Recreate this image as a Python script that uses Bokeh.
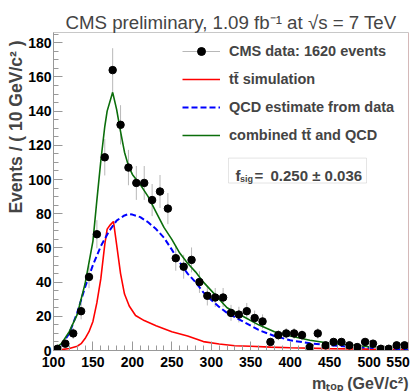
import numpy as np
from bokeh.plotting import figure
from bokeh.models import Range1d, Label, LegendItem, Legend, BoxAnnotation, Span, FixedTicker, Title
from bokeh.embed import file_html
from bokeh.resources import INLINE

# ---- data ----
bin_centers = [105, 115, 125, 135, 145, 155, 165, 175, 185, 195, 205, 215, 225, 235, 245,
               255, 265, 275, 285, 295, 305, 315, 325, 335, 345, 355, 365, 375, 385, 395,
               405, 415, 425, 435, 445, 455, 465, 475, 485, 495, 505, 515, 525, 535, 545]
counts = [1, 4, 10, 23, 43, 68, 113, 164, 132, 107, 98, 98, 88, 93, 83,
          54, 49, 53, 40, 32, 31, 31, 22, 21, 23, 19, 17, 5, 9, 10,
          10, 9, 2, 10, 3, 5, 5, 3, 2, 5, 4, 1, 1, 3, 3]

ttbar_m = [100, 110, 120, 130, 135, 140, 145, 150, 155, 160, 165, 168, 172, 176, 180, 185,
           190, 196, 204, 215, 230, 250, 270, 290, 310, 330, 350, 375, 400, 450, 500, 550]
ttbar_v = [0.2, 0.5, 1.2, 2.5, 4, 7, 11, 17, 28, 42, 62, 71, 73.5, 75.5, 62, 45,
           33, 26, 20.5, 17.5, 14.5, 11, 8.5, 5.2, 3.8, 2.8, 2.5, 2, 1.6, 1.1, 0.8, 0.6]

qcd_m = [100, 105, 110, 120, 130, 140, 150, 160, 170, 180, 190, 195, 200, 210, 220, 230, 240,
         250, 260, 270, 280, 290, 300, 310, 320, 340, 360, 380, 400, 425, 450, 500, 550]
qcd_v = [0, 1.2, 3, 10, 22, 37, 50, 61, 69.5, 76, 79, 79.8, 79.5, 78, 75, 71, 66,
         59, 51.5, 45, 40, 34, 29.5, 25.5, 22, 17, 12, 8.5, 6, 4.2, 3, 1.6, 0.6]

comb_m = [100, 110, 120, 130, 140, 150, 155, 160, 165, 168, 175, 180, 185, 190, 195, 200,
          210, 220, 230, 240, 250, 260, 270, 280, 290, 300, 310, 320, 340, 360, 380, 400,
          425, 450, 500, 550]
comb_v = [0.5, 4, 11, 21, 39, 64, 88, 111, 131, 140, 151, 141, 128, 116, 108, 103,
          97, 90, 81, 72, 65, 57, 51, 46, 40, 35, 30, 25, 20, 15, 11, 8.5,
          6, 4.2, 2.2, 1.6]

x_ticks = [100, 150, 200, 250, 300, 350, 400, 450, 500, 550]
y_ticks = [0, 20, 40, 60, 80, 100, 120, 140, 160, 180]

XMIN, XMAX, YMIN, YMAX = 100, 550, 0, 186

# ---- layout (pixel helpers; frame: x 53..408, y 32..351) ----
W, H = 417, 391
FL, FR, FT, FB = 53, 408, 32, 351
def px_x(px):
    return XMIN + (px - FL) * (XMAX - XMIN) / (FR - FL)
def px_y(py):
    return YMIN + (FB - py) * (YMAX - YMIN) / (FB - FT)

FONT = "Liberation Sans"

p = figure(width=W, height=H, output_backend="svg", toolbar_location=None,
           x_range=Range1d(XMIN, XMAX), y_range=Range1d(YMIN, YMAX),
           min_border_left=FL, min_border_right=W - FR, min_border_top=FT, min_border_bottom=H - FB)
p.background_fill_color = "white"
p.border_fill_color = "white"
p.xgrid.visible = False
p.ygrid.visible = False
p.outline_line_color = "#c8c8c8"

# title
p.title.text = "CMS preliminary, 1.09 fb\u207b\u00b9 at \u221as = 7 TeV"
p.title.align = "center"
p.title.text_font = FONT
p.title.text_font_style = "normal"
p.title.text_font_size = "18.7px"
p.title.standoff = 0
p.title.offset = -5

for ax, ticks, nminor in ((p.xaxis[0], x_ticks, 5), (p.yaxis[0], y_ticks, 4)):
    step = ticks[1] - ticks[0]
    ax.ticker = FixedTicker(ticks=ticks,
                            minor_ticks=list(np.arange(ticks[0] - step, ticks[-1] + step + 0.01, step / nminor)))
    ax.axis_line_color = "#999999"
    ax.major_tick_line_color = "#999999"
    ax.minor_tick_line_color = "#999999"
    ax.major_tick_in = 9
    ax.major_tick_out = 0
    ax.minor_tick_in = 5
    ax.minor_tick_out = 0
    ax.major_label_text_font = FONT
    ax.major_label_text_font_style = "bold"
    ax.major_label_text_font_size = "14px"
    ax.major_label_text_color = "black"
    ax.major_label_standoff = 3
p.yaxis[0].major_label_standoff = 2
p.xaxis[0].major_label_overrides = {550: "550" + "\u00a0" * 2}

# axis titles as side titles (right-aligned like the original)
p.add_layout(Title(text="Events / ( 10 GeV/c\u00b2 )", align="right", text_font=FONT,
                   text_font_style="bold", text_font_size="17.5px", standoff=0, offset=8), "left")
p.add_layout(Title(text="m\u209c\u2092\u209a (GeV/c\u00b2)", align="right", text_font=FONT,
                   text_font_style="bold", text_font_size="16px", standoff=0, offset=0), "below")

p.add_layout(Span(location=XMAX, dimension="height", line_color="#e0a8a8", line_width=1))

# ---- data points with errors ----
bc = np.array(bin_centers, dtype=float)
cn = np.array(counts, dtype=float)
err = np.sqrt(cn)
err_r = p.segment(x0=bc, y0=cn - err, x1=bc, y1=cn + err, line_color="#b8b8b8", line_width=1)

# ---- curves ----
red_r = p.line(ttbar_m, ttbar_v, line_color="#ff0000", line_width=1.6)
blue_r = p.line(qcd_m, qcd_v, line_color="#0000ff", line_width=2, line_dash="6 3")
green_r = p.line(comb_m, comb_v, line_color="#0b6e0b", line_width=1.6)
pts_r = p.scatter(bc, cn, size=7.5, marker="circle", fill_color="black", line_color="black")

# ---- legend ----
legend = Legend(items=[
    LegendItem(label="CMS data: 1620 events", renderers=[err_r, pts_r]),
    LegendItem(label="t\u0074\u0304 simulation", renderers=[red_r]),
    LegendItem(label="QCD estimate from data", renderers=[blue_r]),
    LegendItem(label="combined t\u0074\u0304 and QCD", renderers=[green_r]),
], location=(129, 205), orientation="vertical", glyph_width=38, glyph_height=20,
    label_height=20, spacing=8, padding=0, margin=0, label_standoff=9,
    border_line_color=None, background_fill_alpha=0,
    label_text_font=FONT, label_text_font_style="bold", label_text_font_size="14.5px")
p.add_layout(legend)

# ---- f_sig box ----
p.add_layout(BoxAnnotation(left=px_x(228), right=px_x(366), top=px_y(158), bottom=px_y(183),
                           fill_color="white", fill_alpha=1, line_color="#aaaaaa", line_width=1))
p.add_layout(Label(x=px_x(235), y=px_y(175), text="f", text_font=FONT, text_font_style="bold",
                   text_font_size="15px", text_baseline="alphabetic"))
p.add_layout(Label(x=px_x(239.5), y=px_y(179), text="sig", text_font=FONT, text_font_style="bold",
                   text_font_size="9px", text_baseline="alphabetic"))
p.add_layout(Label(x=px_x(254), y=px_y(175), text="=", text_font=FONT,
                   text_font_style="bold", text_font_size="15px", text_baseline="alphabetic"))
p.add_layout(Label(x=px_x(270), y=px_y(175), text="0.250 \u00b1 0.036", text_font=FONT,
                   text_font_style="bold", text_font_size="15px", text_baseline="alphabetic"))

open("out.html", "w").write(file_html(p, INLINE))
